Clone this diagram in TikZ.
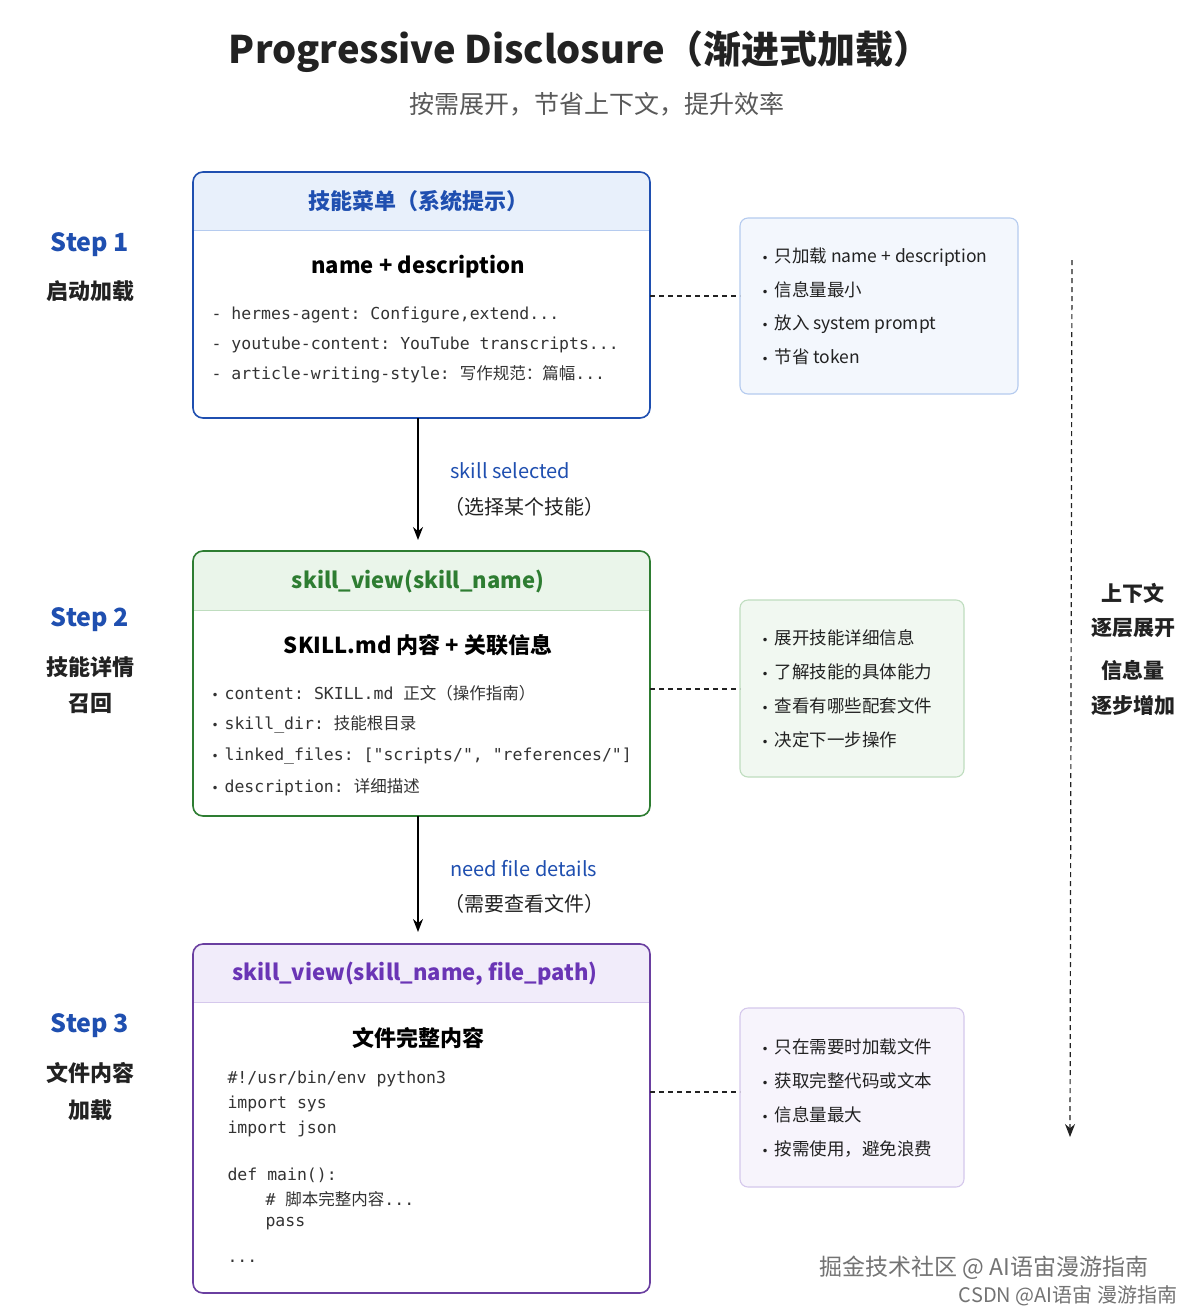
\documentclass[tikz,border=0pt]{standalone}
\usepackage{fontspec}
\setmainfont{Noto Sans CJK SC}
\setmonofont{DejaVu Sans Mono}
\usetikzlibrary{arrows.meta}
\definecolor{bBlue}{HTML}{1F4FB0}
\definecolor{hBlue}{HTML}{E8F0FB}
\definecolor{sBlue}{HTML}{F3F7FD}
\definecolor{lBlue}{HTML}{B5CBEF}
\definecolor{bGreen}{HTML}{2E7D32}
\definecolor{hGreen}{HTML}{EAF5EA}
\definecolor{sGreen}{HTML}{F1F8F1}
\definecolor{lGreen}{HTML}{BFDDBF}
\definecolor{bPurp}{HTML}{6A3FA0}
\definecolor{tPurp}{HTML}{6A35B5}
\definecolor{hPurp}{HTML}{F1ECFA}
\definecolor{sPurp}{HTML}{F7F4FC}
\definecolor{lPurp}{HTML}{D5C8EC}
\definecolor{txt}{HTML}{222222}
\definecolor{code}{HTML}{333333}
\newcommand{\bu}{{\fontspec{DejaVu Sans}\fontsize{12}{14}\selectfont•}\hspace{6pt}}
\tikzset{
  xmain/.style={draw=#1,line width=1.6pt,rounded corners=10pt},
  xside/.style={line width=1.1pt,rounded corners=8pt},
  xhdr/.style={font=\fontsize{22}{25}\selectfont\bfseries,anchor=center},
  xsub/.style={font=\fontsize{22}{25}\selectfont\bfseries,text=black,anchor=center},
  xmono/.style={font=\ttfamily\fontsize{16.5}{18}\selectfont,text=code,anchor=west},
  xbul/.style={font=\fontsize{17.5}{20}\selectfont,text=txt,anchor=west},
  stepno/.style={font=\fontsize{25}{28}\selectfont\bfseries,text=bBlue,anchor=center},
  stepcn/.style={font=\fontsize{22}{24}\selectfont\bfseries,text=txt,anchor=center},
  xlab/.style={font=\fontsize{20}{22}\selectfont,anchor=west},
  xconn/.style={line width=1.5pt,-{Stealth[length=13pt,width=10pt]}},
  xdline/.style={line width=1.2pt,dash pattern=on 5pt off 4pt,draw=txt},
  xwm/.style={font=\fontsize{23}{26}\selectfont,text=black!55,anchor=center}
}
\begin{document}
\begin{tikzpicture}[x=1pt,y=-1pt]
\useasboundingbox[fill=white] (0,0) rectangle (1196,1315);
% title
\node[font=\fontsize{38}{42}\selectfont\bfseries,text=txt] (title) at (580,52) {Progressive Disclosure（渐进式加载）};
\node[font=\fontsize{25}{28}\selectfont,text=black!65] (subt) at (597,104) {按需展开，节省上下文，提升效率};
% Box 1
\fill[hBlue,rounded corners=10pt] (193,172) rectangle (650,230);
\fill[hBlue] (193,200) rectangle (650,230);
\draw[lBlue,line width=1pt] (193,230) -- (650,230);
\draw[xmain=bBlue] (193,172) rectangle (650,418);
\coordinate (b1t) at (418,172); \coordinate (b1b) at (418,418); \coordinate (b1r) at (650,296);
\node[xhdr,text=bBlue] (h1) at (418,201) {技能菜单（系统提示）};
\node[xsub] (s1) at (418,267) {name + description};
\node[xmono] (m11) at (208,315) {- hermes-agent: Configure,extend...};
\node[xmono] (m12) at (208,345) {- youtube-content: YouTube transcripts...};
\node[xmono] (m13) at (208,374) {- article-writing-style: {\rmfamily 写作规范：篇幅}...};
% side 1
\draw[xside,fill=sBlue,draw=lBlue] (740,218) rectangle (1018,394);
\coordinate (r1l) at (740,296);
\node[xbul] at (758,257) {\bu 只加载 name + description};
\node[xbul] at (758,290) {\bu 信息量最小};
\node[xbul] at (758,324) {\bu 放入 system prompt};
\node[xbul] at (758,357) {\bu 节省 token};
\draw[xdline] (b1r) -- (r1l);
% arrow 1
\coordinate (a1) at (418,540);
\draw[xconn] (b1b) -- (a1);
\node[xlab,text=bBlue] at (447,471) {skill selected};
\node[xlab,text=txt] at (441,507) {（选择某个技能）};
% Box 2
\fill[hGreen,rounded corners=10pt] (193,551) rectangle (650,610);
\fill[hGreen] (193,580) rectangle (650,610);
\draw[lGreen,line width=1pt] (193,610) -- (650,610);
\draw[xmain=bGreen] (193,551) rectangle (650,816);
\coordinate (b2b) at (418,816); \coordinate (b2r) at (650,689);
\node[xhdr,text=bGreen] (h2) at (418,581) {skill\_view(skill\_name)};
\node[xsub] (s2) at (418,645) {SKILL.md 内容 + 关联信息};
\node[xmono] at (208,693) {{\rmfamily\bu}content: SKILL.md {\rmfamily 正文（操作指南）}};
\node[xmono] at (208,724) {{\rmfamily\bu}skill\_dir: {\rmfamily 技能根目录}};
\node[xmono] at (208,756) {{\rmfamily\bu}linked\_files: ["scripts/", "references/"]};
\node[xmono] at (208,787) {{\rmfamily\bu}description: {\rmfamily 详细描述}};
% side 2
\draw[xside,fill=sGreen,draw=lGreen] (740,600) rectangle (964,777);
\coordinate (r2l) at (740,689);
\node[xbul] at (758,638) {\bu 展开技能详细信息};
\node[xbul] at (758,672) {\bu 了解技能的具体能力};
\node[xbul] at (758,706) {\bu 查看有哪些配套文件};
\node[xbul] at (758,740) {\bu 决定下一步操作};
\draw[xdline] (b2r) -- (r2l);
% arrow 2
\coordinate (a2) at (418,932);
\draw[xconn] (b2b) -- (a2);
\node[xlab,text=bBlue] at (447,869) {need file details};
\node[xlab,text=txt] at (441,904) {（需要查看文件）};
% Box 3
\fill[hPurp,rounded corners=10pt] (193,944) rectangle (650,1002);
\fill[hPurp] (193,972) rectangle (650,1002);
\draw[lPurp,line width=1pt] (193,1002) -- (650,1002);
\draw[xmain=bPurp] (193,944) rectangle (650,1293);
\coordinate (b3r) at (650,1092);
\node[xhdr,text=tPurp] (h3) at (415,974) {skill\_view(skill\_name, file\_path)};
\node[xsub] (s3) at (418,1038) {文件完整内容};
\node[xmono] at (224,1079) {\#!/usr/bin/env python3};
\node[xmono] at (224,1104) {import sys};
\node[xmono] at (224,1129) {import json};
\node[xmono] at (224,1175) {def main():};
\node[xmono] at (262,1199) {\# {\rmfamily 脚本完整内容}...};
\node[xmono] at (262,1224) {pass};
\node[xmono] at (224,1261) {...};
% side 3
\draw[xside,fill=sPurp,draw=lPurp] (740,1008) rectangle (964,1187);
\coordinate (r3l) at (740,1092);
\node[xbul] at (758,1047) {\bu 只在需要时加载文件};
\node[xbul] at (758,1081) {\bu 获取完整代码或文本};
\node[xbul] at (758,1115) {\bu 信息量最大};
\node[xbul] at (758,1149) {\bu 按需使用，避免浪费};
\draw[xdline] (b3r) -- (r3l);
% right progress arrow
\coordinate (p1) at (1072,260); \coordinate (p2) at (1070,1137);
\draw[xdline,-{Stealth[length=13pt,width=10pt]}] (p1) -- (p2);
\node[stepcn,font=\fontsize{21}{24}\selectfont\bfseries] at (1133,593) {上下文};
\node[stepcn,font=\fontsize{21}{24}\selectfont\bfseries] at (1133,628) {逐层展开};
\node[stepcn,font=\fontsize{21}{24}\selectfont\bfseries] at (1133,670) {信息量};
\node[stepcn,font=\fontsize{21}{24}\selectfont\bfseries] at (1133,705) {逐步增加};
% steps
\node[stepno] at (90,245) {Step 1};
\node[stepcn] at (90,291) {启动加载};
\node[stepno] at (90,620) {Step 2};
\node[stepcn] at (90,667) {技能详情};
\node[stepcn] at (90,703) {召回};
\node[stepno] at (90,1026) {Step 3};
\node[stepcn] at (90,1073) {文件内容};
\node[stepcn] at (90,1110) {加载};
% watermark
\node[xwm] at (984,1268) {掘金技术社区 @ AI语宙漫游指南};
\node[xwm,font=\fontsize{20}{22}\selectfont] at (1068,1296) {CSDN @AI语宙 漫游指南};
\end{tikzpicture}
\end{document}
